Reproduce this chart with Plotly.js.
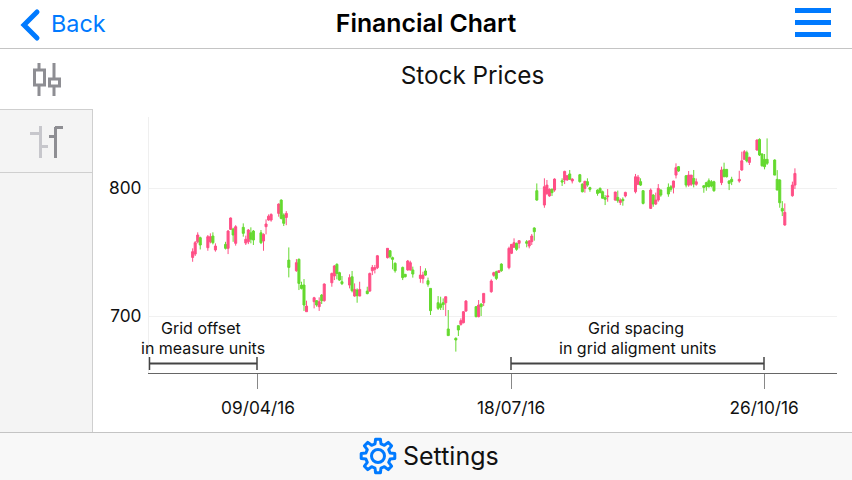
<!DOCTYPE html>
<html><head><meta charset="utf-8">
<script src="https://cdn.plot.ly/plotly-3.0.1.min.js"></script>
<style>
html,body{margin:0;padding:0;background:#fff;width:852px;height:480px;overflow:hidden;font-family:Inter,Roboto,sans-serif}
.a{position:absolute}
#chart{position:absolute;left:0;top:0;width:852px;height:480px}
</style></head><body>
<div class="a" style="left:0;top:48px;width:852px;height:1px;background:#c4c4c4"></div>
<div class="a" style="left:0;top:109px;width:92px;height:323px;background:#f4f4f4;border-right:1px solid #cfcfcf;border-top:1px solid #cfcfcf;box-sizing:content-box"></div>
<div class="a" style="left:0;top:172px;width:92px;height:1px;background:#cfcfcf"></div>
<div class="a" style="left:0;top:432px;width:852px;height:48px;background:#f8f8f8;border-top:1px solid #c4c4c4"></div>
<div class="a" style="left:51px;top:8px;color:#007aff;font-size:23.400px;line-height:32px">Back</div>
<div class="a" style="left:326px;top:7px;width:200px;text-align:center;color:#000;font-size:24.800px;font-weight:600;line-height:32px;white-space:nowrap">Financial Chart</div>
<div class="a" style="left:403px;top:440px;color:#111;font-size:25px;line-height:32px">Settings</div>
<svg class="a" style="left:0;top:0" width="852" height="480" id="icons">
 <path d="M37 12 L24 25 L37 38" fill="none" stroke="#007aff" stroke-width="5" stroke-linecap="round" stroke-linejoin="miter"/>
 <g fill="#007aff"><rect x="795" y="8" width="36" height="5"/><rect x="795" y="20" width="36" height="5"/><rect x="795" y="32" width="36" height="5"/></g>
 <g fill="none" stroke="#8e8e93" stroke-width="3">
  <path d="M39 63V70M39 85V96M54 63V79M54 86V96"/><rect x="34.500" y="70" width="10" height="15"/><rect x="49.500" y="79" width="10" height="7"/>
 </g>
 <g fill="none" stroke-width="3">
  <path stroke="#c7c7cc" d="M40.500 126V158M30 133.500H40M41 146.500H48"/>
  <path stroke="#8e8e93" d="M55.500 127V158M49 136.500H55M55 127.500H63"/>
 </g>
 <path id="gear" fill="none" stroke="#007aff" stroke-width="3" stroke-linejoin="round"/>
 <circle cx="378" cy="456" r="6.500" fill="none" stroke="#007aff" stroke-width="3"/>
</svg>
<div id="chart"></div>
<script>
var dates=["2016-03-15","2016-03-16","2016-03-17","2016-03-18","2016-03-21","2016-03-22","2016-03-23","2016-03-24","2016-03-28","2016-03-29","2016-03-30","2016-03-31","2016-04-01","2016-04-04","2016-04-05","2016-04-06","2016-04-07","2016-04-08","2016-04-11","2016-04-12","2016-04-13","2016-04-14","2016-04-15","2016-04-18","2016-04-19","2016-04-20","2016-04-21","2016-04-22","2016-04-25","2016-04-26","2016-04-27","2016-04-28","2016-04-29","2016-05-02","2016-05-03","2016-05-04","2016-05-05","2016-05-06","2016-05-09","2016-05-10","2016-05-11","2016-05-12","2016-05-13","2016-05-16","2016-05-17","2016-05-18","2016-05-19","2016-05-20","2016-05-23","2016-05-24","2016-05-25","2016-05-26","2016-05-27","2016-05-31","2016-06-01","2016-06-02","2016-06-03","2016-06-06","2016-06-07","2016-06-08","2016-06-09","2016-06-10","2016-06-13","2016-06-14","2016-06-15","2016-06-16","2016-06-17","2016-06-20","2016-06-21","2016-06-22","2016-06-23","2016-06-24","2016-06-27","2016-06-28","2016-06-29","2016-06-30","2016-07-01","2016-07-05","2016-07-06","2016-07-07","2016-07-08","2016-07-11","2016-07-12","2016-07-13","2016-07-14","2016-07-15","2016-07-18","2016-07-19","2016-07-20","2016-07-21","2016-07-22","2016-07-25","2016-07-26","2016-07-27","2016-07-28","2016-07-29","2016-08-01","2016-08-02","2016-08-03","2016-08-04","2016-08-05","2016-08-08","2016-08-09","2016-08-10","2016-08-11","2016-08-12","2016-08-15","2016-08-16","2016-08-17","2016-08-18","2016-08-19","2016-08-22","2016-08-23","2016-08-24","2016-08-25","2016-08-26","2016-08-29","2016-08-30","2016-08-31","2016-09-01","2016-09-02","2016-09-06","2016-09-07","2016-09-08","2016-09-09","2016-09-12","2016-09-13","2016-09-14","2016-09-15","2016-09-16","2016-09-19","2016-09-20","2016-09-21","2016-09-22","2016-09-23","2016-09-26","2016-09-27","2016-09-28","2016-09-29","2016-09-30","2016-10-03","2016-10-04","2016-10-05","2016-10-06","2016-10-07","2016-10-10","2016-10-11","2016-10-12","2016-10-13","2016-10-14","2016-10-17","2016-10-18","2016-10-19","2016-10-20","2016-10-21","2016-10-24","2016-10-25","2016-10-26","2016-10-27","2016-10-28","2016-10-31","2016-11-01","2016-11-02","2016-11-03","2016-11-04","2016-11-07","2016-11-08"];
var opens=[745.8,748.4,758,761.2,753.4,758,762.5,751.6,756,752.9,767.7,768,756.8,769.3,757,758,765,766.4,765,758.6,769.8,775,775,780.2,790.6,778.9,777,743.7,735.4,744.3,724.2,724.2,703.4,711.2,712,707.3,716.4,712,726,731.3,740.4,733.9,726.8,724.2,730.7,715.6,720.3,715.6,719.5,719.5,735.4,736.5,737.8,745.6,751,745.6,741.2,738,732.6,736,736,736,729.4,729.2,735.2,727.6,721.6,710.4,709.4,710.4,710.4,689.9,682.6,692.5,693.5,694.8,703.9,707.3,699.5,709.4,710.4,719,731.8,734.6,734.1,740.6,737.8,749,753.7,756.8,756.8,758.1,754.7,758.1,768.8,797.9,786.7,795.8,793.8,799,798.4,805.7,806.3,806.3,811,805.5,810.4,803.1,799.7,805,800.3,798.4,799.7,797.1,792.5,793.2,790.6,792.7,788.8,791.2,793.8,797.1,803,805,797.9,784.1,794.5,787.5,790.6,798.4,800.5,801,800.5,810.1,816.7,809.6,802.3,802.9,807.5,802.9,801.8,804.2,805.7,804.9,804.9,804.2,814.6,814.6,805.5,806.8,805.5,814.1,822.4,827.6,820,829.7,838,826.6,822.4,822.4,821.9,806.8,806.2,784.1,771.1,794,802.3];
var highs=[752.9,758.6,765.4,762,763.3,764.6,765.4,756.8,758,767.2,777,769,771,772.4,762.8,768,769.3,767.2,767.2,764.6,775.5,779.4,780.2,788,791.1,780.2,782,753.6,744.5,745,726.8,728.9,712,715,712.5,714.6,717.2,725.5,733.9,739.9,741.2,734.6,731.3,732.6,735.2,725.5,721.6,726.8,722.9,733.9,739.9,739.9,747.7,752.9,751.6,746.4,741.9,738.6,732.8,743.8,743.2,738.6,739.1,734.6,737.3,730,721.6,715.6,715.1,713.8,715.1,704.7,683.3,692.5,698.2,703.9,712.5,707.8,712.5,709.9,717.7,728.7,734.6,735.4,735.4,741.2,754.2,756.3,760.7,757.3,759.4,759.4,759.4,764.1,769.3,803.6,807.6,806.3,799.7,799.7,807.6,807.6,813.5,810.2,814.1,807.6,811,803.6,805.7,807.6,801,799,800.5,798,794.5,799.2,797,798,791.9,792.7,797.1,811,810.2,807.6,798.4,799.7,795.3,796.4,803.1,799,803.6,802.3,805.7,819.3,817.2,810.1,813.3,810.1,814.1,807.5,802.3,804.9,807.5,806.2,805.7,816.7,819.8,814.6,806.2,808.8,813.5,828.4,829.7,829.2,824.5,838,838.8,827.1,826.6,838.8,822.4,814,807,789.8,788,805,815.4];
var lows=[742.4,746.9,756.8,752,751,756.8,756,750.3,752,748.4,767.2,758,755,762,755.5,756.2,756.8,755.5,756.2,751,763.8,774.5,773.7,777.6,775.5,770.3,771,730.2,734.6,720.3,720.8,704,703.4,706,707.3,704,709.4,711.2,722.9,728.1,728.7,727.6,724.2,721.6,718.5,715.1,710.4,715.6,717,719,732,733.3,736.7,745,745,736.5,733.9,728.1,730.2,735.4,735.4,730,726,725.5,731.5,722.9,700.8,704.7,704.7,704.7,700,684.7,672.2,684.4,692.5,694.3,703.4,699,699,700,707.8,718.2,730.7,728.1,733.9,734.6,736.5,748.4,753.7,751,752.9,753.7,752.9,755.5,758.9,790.1,784.6,794.5,793.2,793.8,797.1,801.6,803.1,805.7,806.3,803.6,804.2,796.6,796.4,801,797.1,794,795.8,792,786.7,789.3,790.1,788.5,786.7,786.2,792.7,795.8,802.3,801.6,787.2,783.6,785.4,786.7,789.3,793.2,793.2,797.1,795.8,807.5,812.7,800.5,801,801.6,800.5,801.8,796.3,797.9,800.5,800.5,797.1,802.3,808.8,808.3,798.4,802.3,804.2,813.5,822.4,820,818,829.2,825,816.7,814.6,818,810.1,798.4,784.6,778.1,770.6,793.2,799.2];
var closes=[750.3,757.3,763.3,755.5,762,762,757.3,754.7,752.9,766.4,776.6,763.3,769.8,764.6,760,767.2,760,759.4,757.3,763.8,771.9,778,779.4,787.5,776.3,772.4,780.2,738,741.7,725.5,721.6,708.6,707.8,714.3,708.6,711.2,712,725,733.3,739.1,733.3,728.1,725.3,730,719.8,720.8,715.9,720.8,717.5,733.3,738,737.8,747.1,752.9,746.4,744.3,735.4,730,730.7,743,741.7,732.8,732,732,732,724.8,704.2,706,706.8,708.9,715.1,684.7,681.3,689.1,696.4,703.4,711.7,699.5,708.6,707.3,717.7,727.4,733.9,729.4,735.4,735.4,752.9,756,757.3,752.1,758.9,756.8,758.6,762.5,765.9,790.6,801,802.3,799,796.4,807,804.7,813,809.6,806.8,807,805,797.1,805.2,802.3,799,795.8,796.6,792,791.2,793.8,796.9,790.1,790.6,790.1,796.6,808.8,808.5,802.3,788,798.4,787.5,790.6,799.7,794.5,795.3,799,805.5,815.9,813.3,802.3,810.1,810.1,803.1,804.9,800.5,801,801,801.6,797.9,814.1,808.8,808.8,803.6,805,806.8,821.3,828.4,821.1,823.9,837.5,825.8,817.4,816.7,819.3,810.1,798.4,788.5,782,781,802.3,811.4];
var tickDates=["2016-04-09 19:40","2016-07-18 19:40","2016-10-26 20:00"];
var tickLabels=["09/04/16","18/07/16","26/10/16"];
var yTicks=[700,800];
var W=688,H=256,L=149,B=373;
function xp(px){return (px-L)/W}
function yp(py){return (B-py)/H}
function seg(x0,y0,x1,y1,c,w){return {type:'line',xref:'paper',yref:'paper',x0:xp(x0),y0:yp(y0),x1:xp(x1),y1:yp(y1),line:{color:c,width:w},layer:'above'}}
function note(t,x,y){return {text:t,xref:'paper',yref:'paper',x:xp(x),y:yp(y),xanchor:'center',yanchor:'middle',showarrow:false,font:{size:16,color:'#111'}}}
var c='#444';
Plotly.newPlot('chart',[{type:'candlestick',x:dates,open:opens,high:highs,low:lows,close:closes,
  increasing:{line:{color:'#ff4f86',width:1},fillcolor:'#ff4f86'},
  decreasing:{line:{color:'#64d92f',width:1},fillcolor:'#64d92f'},
  whiskerwidth:0,hoverinfo:'skip',showlegend:false}],
 {width:852,height:480,margin:{l:L,r:852-L-W,t:117,b:480-B,pad:0},
  paper_bgcolor:'rgba(0,0,0,0)',plot_bgcolor:'rgba(0,0,0,0)',showlegend:false,
  font:{family:'Inter, Roboto, sans-serif',color:'#111',size:17},
  boxgap:0.2,boxgroupgap:0,
  title:{text:'Stock Prices',xref:'container',yref:'container',x:472.500/852,y:1-75/480,xanchor:'center',yanchor:'middle',font:{size:24.300,color:'#111'}},
  xaxis:{type:'date',range:['2016-02-26 18:00','2016-11-24 15:00'],rangeslider:{visible:false},tickmode:'array',tickvals:tickDates,ticktext:tickLabels,
    ticks:'outside',ticklen:15,tickwidth:1,tickcolor:'#888',showline:true,linecolor:'#666',linewidth:1,showgrid:false,zeroline:false,ticklabelstandoff:4,tickfont:{size:17.300,color:'#111'}},
  yaxis:{range:[655.5,855.5],tickmode:'array',tickvals:yTicks,ticks:'outside',ticklen:3,tickcolor:'rgba(0,0,0,0)',showline:true,linecolor:'#efefef',linewidth:1,
    gridcolor:'#f1f1f1',gridwidth:1,zeroline:false,tickfont:{size:17.300,color:'#111'}},
  shapes:[seg(149,363.5,257,363.5,c,2),seg(149.5,357,149.5,370,c,1.5),seg(257,357,257,370,c,1.5),
          seg(511,363.5,764,363.5,c,2),seg(511,357,511,370,c,1.5),seg(764,357,764,370,c,1.5)],
  annotations:[note('Grid offset',201,328),note('in measure units',203,348),note('Grid spacing',635.5,328),note('in grid aligment units',637,348)]
 },{displayModeBar:false,staticPlot:true});
(function(){var d='',n=8,cx=378,cy=456,ro=17,ri=12.5;
 for(var i=0;i<n;i++){var a=i*2*Math.PI/n,s=Math.PI/n;
  var p=[[ri,a-s*0.62],[ro,a-s*0.36],[ro,a+s*0.36],[ri,a+s*0.62]];
  p.forEach(function(q,j){d+=((i==0&&j==0)?'M':'L')+(cx+q[0]*Math.sin(q[1])).toFixed(1)+' '+(cy-q[0]*Math.cos(q[1])).toFixed(1)+' '});}
 document.getElementById('gear').setAttribute('d',d+'Z');})();
</script>
</body></html>
